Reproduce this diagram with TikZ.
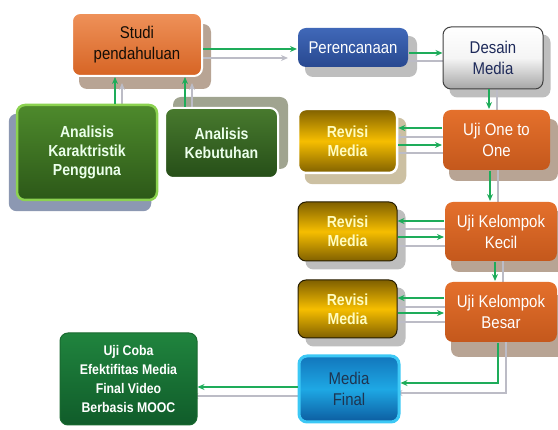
\documentclass[tikz,border=0pt]{standalone}
\usepackage{fontspec}
\setmainfont{Liberation Sans}[FakeStretch=0.88]
\usetikzlibrary{arrows.meta}
\usetikzlibrary{backgrounds}

\pgfdeclarelayer{shadows}
\pgfsetlayers{shadows,background,main}

\definecolor{arrowgreen}{RGB}{30,172,90}
\definecolor{arrowgrey}{RGB}{188,188,198}
\definecolor{orangetop}{RGB}{236,126,60}
\definecolor{orangebot}{RGB}{214,100,36}
\definecolor{ujitop}{RGB}{228,112,44}
\definecolor{ujibot}{RGB}{196,88,28}
\definecolor{goldedge}{RGB}{128,96,0}
\definecolor{goldmid}{RGB}{246,190,0}
\definecolor{shorange}{RGB}{184,164,148}
\definecolor{shtan}{RGB}{204,192,162}
\definecolor{shgrey}{RGB}{190,190,190}
\definecolor{shblue}{RGB}{140,152,178}
\definecolor{sholive}{RGB}{160,164,144}

\newcommand{\regfont}{\fontsize{17}{21}\selectfont}
\newcommand{\boldfont}{\fontsize{16}{19}\selectfont\bfseries}

\begin{document}
\begin{tikzpicture}[x=1pt, y=-1pt,
    box/.style={rounded corners=8pt, align=center, inner sep=1pt, line width=2pt},
    shadowbox/.style={rounded corners=8pt},
    greenarrow/.style={draw=arrowgreen, line width=1.3pt, -{Stealth[length=7pt,width=6pt]}},
    greyarrow/.style={draw=arrowgrey, line width=1.3pt, -{Stealth[length=7pt,width=6pt]}},
    revisi/.style={box, minimum width=99pt, draw=black!70!goldedge, line width=1pt,
      top color=goldedge, bottom color=goldedge, middle color=goldmid,
      text=yellow!25, font=\boldfont},
    ujibox/.style={box, draw=none, top color=ujitop, bottom color=ujibot,
      text=white, font=\regfont}]

    \useasboundingbox (0,0) rectangle (558,430);

    % Nodes
    \node[box, minimum width=130pt, minimum height=63pt, draw=white, top color=orangetop!85!white, bottom color=orangebot,
      text=black!90!brown, font=\regfont] (studi) at (137,44.5) {Studi\\pendahuluan};
    \node[box, minimum width=140pt, minimum height=95pt, draw={rgb,255:red,140;green,210;blue,80}, line width=2.5pt,
      top color={rgb,255:red,78;green,138;blue,44}, bottom color={rgb,255:red,44;green,88;blue,24},
      text=green!8, font=\boldfont] (akp) at (87,152.5) {Analisis\\Karaktristik\\Pengguna};
    \node[box, minimum width=113pt, minimum height=70pt, draw=white,
      top color={rgb,255:red,72;green,122;blue,46}, bottom color={rgb,255:red,38;green,78;blue,24},
      text=green!8, font=\boldfont] (akeb) at (221.5,143) {Analisis\\Kebutuhan};
    \node[box, minimum width=110pt, minimum height=39pt, draw=none,
      top color={rgb,255:red,64;green,104;blue,184}, bottom color={rgb,255:red,40;green,72;blue,144},
      text=white, font=\regfont] (perenc) at (353,47.5) {Perencanaan};
    \node[box, minimum width=100pt, minimum height=62pt, draw=black!75, line width=1pt,
      top color=white, bottom color=black!35, middle color=black!4,
      text={rgb,255:red,30;green,42;blue,90}, font=\regfont] (desain) at (493,58) {Desain\\Media};

    \node[revisi, minimum height=64pt, draw=white, line width=2.5pt] (rev1) at (347.5,141) {Revisi\\Media};
    \node[ujibox, minimum width=107pt, minimum height=60pt] (uji1) at (496.5,140) {Uji One to\\One};
    \node[revisi, minimum height=59pt] (rev2) at (347.5,231.5) {Revisi\\Media};
    \node[ujibox, minimum width=112pt, minimum height=59pt] (ujik) at (501,231.5) {Uji Kelompok\\Kecil};
    \node[revisi, minimum height=58pt] (rev3) at (347.5,309) {Revisi\\Media};
    \node[ujibox, minimum width=112pt, minimum height=60pt] (ujib) at (501,312) {Uji Kelompok\\Besar};

    \node[box, minimum width=100pt, minimum height=66pt, draw={rgb,255:red,60;green,200;blue,245}, line width=3pt,
      top color={rgb,255:red,18;green,118;blue,188}, bottom color={rgb,255:red,12;green,92;blue,160},
      middle color={rgb,255:red,30;green,168;blue,228},
      text={rgb,255:red,30;green,52;blue,80}, font=\regfont] (mfinal) at (349,389) {Media\\Final};
    \node[box, minimum width=137pt, minimum height=92pt, draw={rgb,255:red,26;green,106;blue,48}, line width=1pt,
      top color={rgb,255:red,32;green,132;blue,62}, bottom color={rgb,255:red,16;green,92;blue,42},
      text=white, font=\fontsize{14}{19}\selectfont\bfseries] (ujicoba) at (128.5,379) {Uji Coba\\Efektifitas Media\\Final Video\\Berbasis MOOC};

    % Shadows
    \begin{pgfonlayer}{shadows}
      \fill[shadowbox, fill=shorange] ([shift={(8,12)}]studi.north west) rectangle ([shift={(8,12)}]studi.south east);
      \fill[shadowbox, fill=shblue] ([shift={(-7,10)}]akp.north west) rectangle ([shift={(-7,10)}]akp.south east);
      \fill[shadowbox, fill=sholive] ([shift={(9,-10)}]akeb.north west) rectangle ([shift={(9,-10)}]akeb.south east);
      \fill[shadowbox, fill=shgrey] ([shift={(8,9)}]perenc.north west) rectangle ([shift={(8,9)}]perenc.south east);
      \fill[shadowbox, fill=shgrey] ([shift={(7,8)}]desain.north west) rectangle ([shift={(7,8)}]desain.south east);
      \fill[shadowbox, fill=shtan] ([shift={(8,10)}]rev1.north west) rectangle ([shift={(8,10)}]rev1.south east);
      \fill[shadowbox, fill=shorange] ([shift={(7,10)}]uji1.north west) rectangle ([shift={(7,10)}]uji1.south east);
      \fill[shadowbox, fill=shgrey] ([shift={(8,8)}]rev2.north west) rectangle ([shift={(8,8)}]rev2.south east);
      \fill[shadowbox, fill=shorange] ([shift={(7,10)}]ujik.north west) rectangle ([shift={(7,10)}]ujik.south east);
      \fill[shadowbox, fill=shgrey] ([shift={(8,8)}]rev3.north west) rectangle ([shift={(8,8)}]rev3.south east);
      \fill[shadowbox, fill=shorange] ([shift={(7,14)}]ujib.north west) rectangle ([shift={(7,14)}]ujib.south east);
    \end{pgfonlayer}

    % Grey arrows
    \begin{scope}[on background layer]
      \draw[greyarrow, shorten >=6pt] (122,0 |- akp.center) -- (122,0 |- studi.south);
      \draw[greyarrow, shorten >=6pt] (192,0 |- akeb.center) -- (192,0 |- studi.south);
      \draw[greyarrow, shorten >=9pt] (studi.center |- 0,58) -- (perenc.west |- 0,58);
      \draw[greyarrow] (perenc.center |- 0,61) -- (desain.center |- 0,61);
      \draw[greyarrow] (497,0 |- desain.center) -- (497,0 |- uji1.center);
      \draw[greyarrow, shorten >=-4pt] (uji1.center |- 0,137) -- (rev1.east |- 0,137);
      \draw[greyarrow] (rev1.center |- 0,153) -- (uji1.center |- 0,153);
      \draw[greyarrow] (498,0 |- uji1.center) -- (498,0 |- ujik.center);
      \draw[greyarrow, shorten >=-4pt] (ujik.center |- 0,229) -- (rev2.east |- 0,229);
      \draw[greyarrow] (rev2.center |- 0,246) -- (ujik.center |- 0,246);
      \draw[greyarrow] (503,0 |- ujik.center) -- (503,0 |- ujib.center);
      \draw[greyarrow, shorten >=-4pt] (ujib.center |- 0,307) -- (rev3.east |- 0,307);
      \draw[greyarrow] (rev3.center |- 0,322) -- (ujib.center |- 0,322);
      \draw[greyarrow, shorten >=-5pt] (506,0 |- ujib.center) |- (mfinal.east |- 0,393);
      \draw[greyarrow, shorten >=-6pt] (mfinal.center |- 0,396) -- (ujicoba.east |- 0,396);
    \end{scope}

    % Green arrows
    \draw[greenarrow] (115,0 |- akp.north) -- (115,0 |- studi.south);
    \draw[greenarrow] (185,0 |- akeb.north) -- (185,0 |- studi.south);
    \draw[greenarrow] (studi.east |- 0,49) -- (perenc.west |- 0,49);
    \draw[greenarrow] (perenc.east |- 0,53) -- (desain.west |- 0,53);
    \draw[greenarrow] (489,0 |- desain.south) -- (489,0 |- uji1.north);
    \draw[greenarrow] (uji1.west |- 0,128) -- (rev1.east |- 0,128);
    \draw[greenarrow] (rev1.east |- 0,145) -- (uji1.west |- 0,145);
    \draw[greenarrow] (490,0 |- uji1.south) -- (490,0 |- ujik.north);
    \draw[greenarrow] (ujik.west |- 0,221) -- (rev2.east |- 0,221);
    \draw[greenarrow] (rev2.east |- 0,237) -- (ujik.west |- 0,237);
    \draw[greenarrow] (495,0 |- ujik.south) -- (495,0 |- ujib.north);
    \draw[greenarrow] (ujib.west |- 0,298) -- (rev3.east |- 0,298);
    \draw[greenarrow] (rev3.east |- 0,313) -- (ujib.west |- 0,313);
    \draw[greenarrow] (498,0 |- ujib.south) |- (mfinal.east |- 0,383);
    \draw[greenarrow] (mfinal.west |- 0,387) -- (ujicoba.east |- 0,387);
  \end{tikzpicture}
\end{document}
